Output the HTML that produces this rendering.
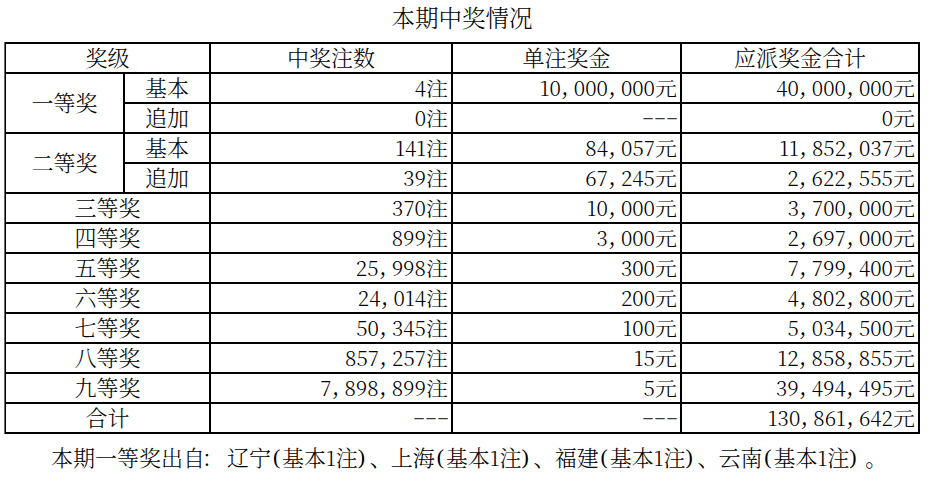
<!DOCTYPE html>
<html lang="zh-CN"><head><meta charset="utf-8"><title>本期中奖情况</title>
<style>
html,body{margin:0;padding:0;background:#fff;}
body{width:932px;height:479px;position:relative;overflow:hidden;color:#000;
font-family:"Liberation Serif","Noto Serif CJK SC",serif;font-size:22px;}
.z{font-family:"Noto Serif CJK SC","Liberation Serif",serif;font-weight:300;}
b{position:absolute;background:#000;display:block;}
div.c,div.r{position:absolute;display:flex;align-items:center;white-space:nowrap;line-height:1;box-sizing:border-box;padding-bottom:2px;}
div.c{justify-content:center;}
div.r{justify-content:flex-end;padding-right:3px;}
.n{font-size:20.6px;letter-spacing:0.05px;position:relative;top:0.5px;}
i{font-style:normal;display:inline-block;width:13px;font-size:25px;line-height:0;position:relative;top:-1px;}
.d{display:inline-block;transform:scale(1.64,0.7);transform-origin:100% 50%;position:relative;top:0.2px;margin-right:-1px;color:#3a3a3a;font-family:"Liberation Serif",serif;font-weight:400;}
.lp,.rp{display:inline-block;width:11px;font-family:"Liberation Serif",serif;font-weight:400;position:relative;top:-2px;}
.lp{text-align:center;}
.rp{text-align:left;}
.pe{position:relative;left:5px;}
.co{position:relative;left:-3px;}
.dn{position:relative;left:1px;}
.u{display:inline-block;transform:scaleY(0.9);transform-origin:50% 85%;}
.n1{font-size:20.6px;}
.t{position:absolute;left:4px;width:916px;top:0;margin:0;text-align:center;font-size:23.5px;line-height:34px;}
.f{position:absolute;left:51px;top:442px;margin:0;font-size:22px;line-height:30px;white-space:nowrap;}
</style></head><body class="z">
<p class="t">本期中奖情况</p>
<b style="left:4px;top:42px;width:1px;height:392px;background:#6a6a6a"></b>
<b style="left:5px;top:42px;width:1px;height:392px"></b>
<b style="left:123px;top:72px;width:2px;height:122px"></b>
<b style="left:209px;top:42px;width:2px;height:392px"></b>
<b style="left:451px;top:42px;width:2px;height:392px"></b>
<b style="left:680px;top:42px;width:2px;height:392px"></b>
<b style="left:918px;top:42px;width:2px;height:392px"></b>
<b style="left:5px;top:42px;width:915px;height:2px"></b>
<b style="left:5px;top:72px;width:915px;height:2px"></b>
<b style="left:123px;top:102px;width:797px;height:2px"></b>
<b style="left:5px;top:132px;width:915px;height:2px"></b>
<b style="left:123px;top:162px;width:797px;height:2px"></b>
<b style="left:5px;top:192px;width:915px;height:2px"></b>
<b style="left:5px;top:222px;width:915px;height:2px"></b>
<b style="left:5px;top:252px;width:915px;height:2px"></b>
<b style="left:5px;top:282px;width:915px;height:2px"></b>
<b style="left:5px;top:312px;width:915px;height:2px"></b>
<b style="left:5px;top:342px;width:915px;height:2px"></b>
<b style="left:5px;top:372px;width:915px;height:2px"></b>
<b style="left:5px;top:402px;width:915px;height:2px"></b>
<b style="left:5px;top:432px;width:915px;height:2px"></b>
<div class="c" style="left:6px;top:44px;width:203px;height:28px">奖级</div>
<div class="c" style="left:211px;top:44px;width:240px;height:28px">中奖注数</div>
<div class="c" style="left:453px;top:44px;width:227px;height:28px">单注奖金</div>
<div class="c" style="left:682px;top:44px;width:236px;height:28px">应派奖金合计</div>
<div class="c" style="left:6px;top:74px;width:117px;height:58px">一等奖</div>
<div class="c" style="left:125px;top:74px;width:84px;height:28px">基本</div>
<div class="r" style="left:211px;top:74px;width:240px;height:28px"><span class="n">4</span><span class="u">注</span></div>
<div class="r" style="left:453px;top:74px;width:227px;height:28px"><span class="n">10<i>,</i>000<i>,</i>000</span><span class="u">元</span></div>
<div class="r" style="left:682px;top:74px;width:236px;height:28px"><span class="n">40<i>,</i>000<i>,</i>000</span><span class="u">元</span></div>
<div class="c" style="left:125px;top:104px;width:84px;height:28px">追加</div>
<div class="r" style="left:211px;top:104px;width:240px;height:28px"><span class="n">0</span><span class="u">注</span></div>
<div class="r" style="left:453px;top:104px;width:227px;height:28px"><span class="d">---</span></div>
<div class="r" style="left:682px;top:104px;width:236px;height:28px"><span class="n">0</span><span class="u">元</span></div>
<div class="c" style="left:6px;top:134px;width:117px;height:58px">二等奖</div>
<div class="c" style="left:125px;top:134px;width:84px;height:28px">基本</div>
<div class="r" style="left:211px;top:134px;width:240px;height:28px"><span class="n">141</span><span class="u">注</span></div>
<div class="r" style="left:453px;top:134px;width:227px;height:28px"><span class="n">84<i>,</i>057</span><span class="u">元</span></div>
<div class="r" style="left:682px;top:134px;width:236px;height:28px"><span class="n">11<i>,</i>852<i>,</i>037</span><span class="u">元</span></div>
<div class="c" style="left:125px;top:164px;width:84px;height:28px">追加</div>
<div class="r" style="left:211px;top:164px;width:240px;height:28px"><span class="n">39</span><span class="u">注</span></div>
<div class="r" style="left:453px;top:164px;width:227px;height:28px"><span class="n">67<i>,</i>245</span><span class="u">元</span></div>
<div class="r" style="left:682px;top:164px;width:236px;height:28px"><span class="n">2<i>,</i>622<i>,</i>555</span><span class="u">元</span></div>
<div class="c" style="left:6px;top:194px;width:203px;height:28px">三等奖</div>
<div class="r" style="left:211px;top:194px;width:240px;height:28px"><span class="n">370</span><span class="u">注</span></div>
<div class="r" style="left:453px;top:194px;width:227px;height:28px"><span class="n">10<i>,</i>000</span><span class="u">元</span></div>
<div class="r" style="left:682px;top:194px;width:236px;height:28px"><span class="n">3<i>,</i>700<i>,</i>000</span><span class="u">元</span></div>
<div class="c" style="left:6px;top:224px;width:203px;height:28px">四等奖</div>
<div class="r" style="left:211px;top:224px;width:240px;height:28px"><span class="n">899</span><span class="u">注</span></div>
<div class="r" style="left:453px;top:224px;width:227px;height:28px"><span class="n">3<i>,</i>000</span><span class="u">元</span></div>
<div class="r" style="left:682px;top:224px;width:236px;height:28px"><span class="n">2<i>,</i>697<i>,</i>000</span><span class="u">元</span></div>
<div class="c" style="left:6px;top:254px;width:203px;height:28px">五等奖</div>
<div class="r" style="left:211px;top:254px;width:240px;height:28px"><span class="n">25<i>,</i>998</span><span class="u">注</span></div>
<div class="r" style="left:453px;top:254px;width:227px;height:28px"><span class="n">300</span><span class="u">元</span></div>
<div class="r" style="left:682px;top:254px;width:236px;height:28px"><span class="n">7<i>,</i>799<i>,</i>400</span><span class="u">元</span></div>
<div class="c" style="left:6px;top:284px;width:203px;height:28px">六等奖</div>
<div class="r" style="left:211px;top:284px;width:240px;height:28px"><span class="n">24<i>,</i>014</span><span class="u">注</span></div>
<div class="r" style="left:453px;top:284px;width:227px;height:28px"><span class="n">200</span><span class="u">元</span></div>
<div class="r" style="left:682px;top:284px;width:236px;height:28px"><span class="n">4<i>,</i>802<i>,</i>800</span><span class="u">元</span></div>
<div class="c" style="left:6px;top:314px;width:203px;height:28px">七等奖</div>
<div class="r" style="left:211px;top:314px;width:240px;height:28px"><span class="n">50<i>,</i>345</span><span class="u">注</span></div>
<div class="r" style="left:453px;top:314px;width:227px;height:28px"><span class="n">100</span><span class="u">元</span></div>
<div class="r" style="left:682px;top:314px;width:236px;height:28px"><span class="n">5<i>,</i>034<i>,</i>500</span><span class="u">元</span></div>
<div class="c" style="left:6px;top:344px;width:203px;height:28px">八等奖</div>
<div class="r" style="left:211px;top:344px;width:240px;height:28px"><span class="n">857<i>,</i>257</span><span class="u">注</span></div>
<div class="r" style="left:453px;top:344px;width:227px;height:28px"><span class="n">15</span><span class="u">元</span></div>
<div class="r" style="left:682px;top:344px;width:236px;height:28px"><span class="n">12<i>,</i>858<i>,</i>855</span><span class="u">元</span></div>
<div class="c" style="left:6px;top:374px;width:203px;height:28px">九等奖</div>
<div class="r" style="left:211px;top:374px;width:240px;height:28px"><span class="n">7<i>,</i>898<i>,</i>899</span><span class="u">注</span></div>
<div class="r" style="left:453px;top:374px;width:227px;height:28px"><span class="n">5</span><span class="u">元</span></div>
<div class="r" style="left:682px;top:374px;width:236px;height:28px"><span class="n">39<i>,</i>494<i>,</i>495</span><span class="u">元</span></div>
<div class="c" style="left:6px;top:404px;width:203px;height:28px">合计</div>
<div class="r" style="left:211px;top:404px;width:240px;height:28px"><span class="d">---</span></div>
<div class="r" style="left:453px;top:404px;width:227px;height:28px"><span class="d">---</span></div>
<div class="r" style="left:682px;top:404px;width:236px;height:28px"><span class="n">130<i>,</i>861<i>,</i>642</span><span class="u">元</span></div>
<p class="f">本期一等奖出自<span class="co">：</span>辽宁<span class="lp">(</span>基本<span class="n1">1</span>注<span class="rp">)</span><span class="dn">、</span>上海<span class="lp">(</span>基本<span class="n1">1</span>注<span class="rp">)</span><span class="dn">、</span>福建<span class="lp">(</span>基本<span class="n1">1</span>注<span class="rp">)</span><span class="dn">、</span>云南<span class="lp">(</span>基本<span class="n1">1</span>注<span class="rp">)</span><span class="pe">。</span></p>
</body></html>
